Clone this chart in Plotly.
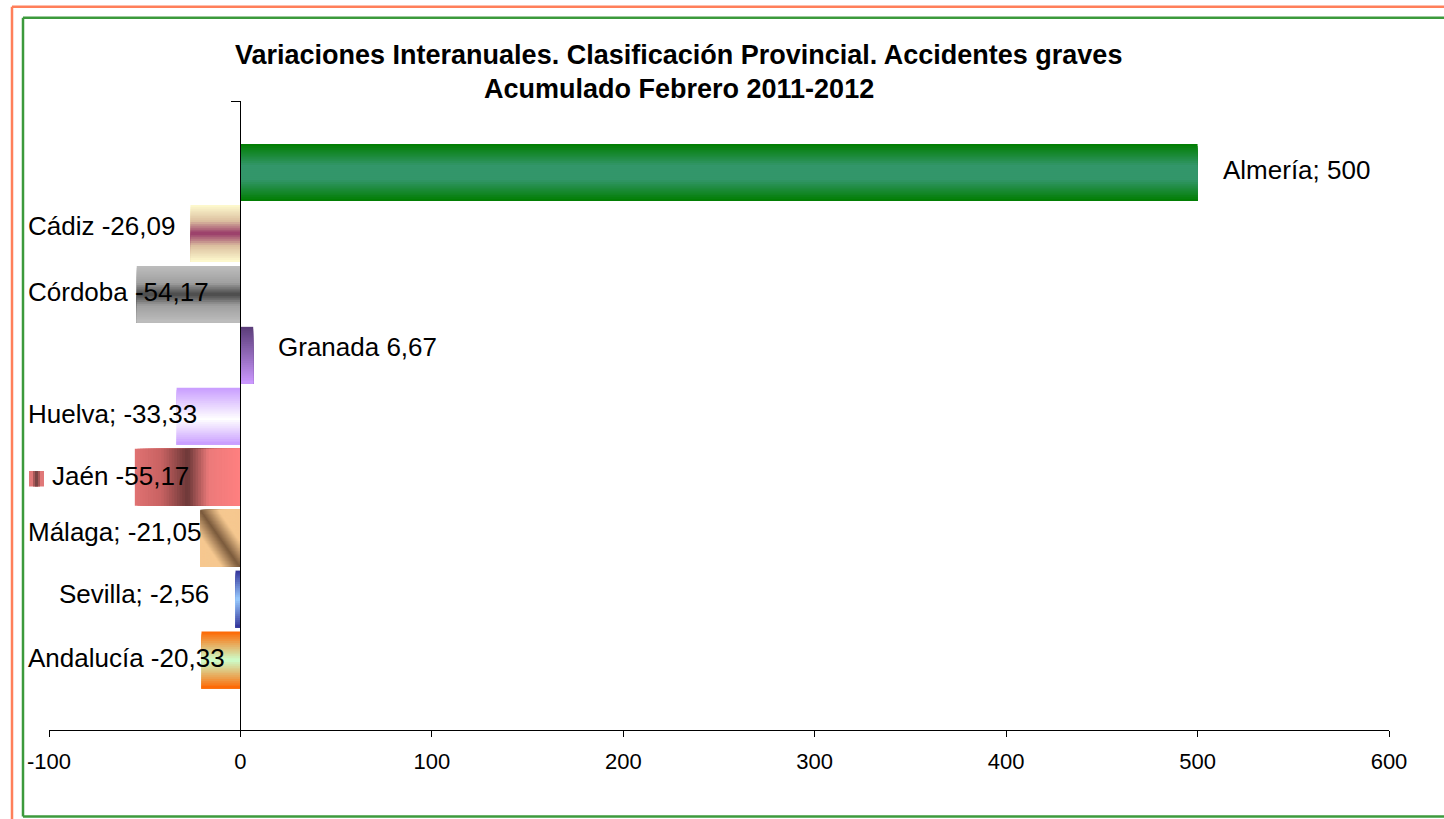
import plotly.graph_objects as go

# ---------------- data ----------------
provincias = ["Almería", "Cádiz", "Córdoba", "Granada", "Huelva", "Jaén", "Málaga", "Sevilla", "Andalucía"]
variacion = [500, -26.09, -54.17, 6.67, -33.33, -55.17, -21.05, -2.56, -20.33]
separador = ["; ", " ", " ", " ", "; ", " ", "; ", "; ", " "]
x_ticks = [-100, 0, 100, 200, 300, 400, 500, 600]
titulo_1 = "Variaciones Interanuales. Clasificación Provincial. Accidentes graves"
titulo_2 = "Acumulado Febrero 2011-2012"

# ---------------- layout geometry (pixels) ----------------
W_, H_ = 1444, 819
L, R, T, B = 49, 55, 101, 89
PW, PH = W_ - L - R, H_ - T - B
FONT = "Liberation Sans, Arial, sans-serif"


def pxx(px):
    return (px - L) / PW


def pxy(py):
    return (H_ - B - py) / PH


# label placement: left edge x (px), vertical centre y (px)
label_pos = [(1221, 170.5), (26, 226), (26, 291.5), (276, 347), (26, 414),
             (50, 475.5), (26, 532), (57, 594), (26, 658)]

BAR_W = 0.935
Y_RANGE = [9.148, -1.173]


def hexrgb(h):
    h = h.lstrip("#")
    return tuple(int(h[i:i + 2], 16) for i in (0, 2, 4))


def ramp(stops, p):
    p = min(max(p, 0.0), 1.0)
    for (p0, c0), (p1, c1) in zip(stops, stops[1:]):
        if p <= p1:
            f = 0 if p1 == p0 else (p - p0) / (p1 - p0)
            a, b = hexrgb(c0), hexrgb(c1)
            return "rgb(%d,%d,%d)" % tuple(round(a[k] + (b[k] - a[k]) * f) for k in range(3))
    a = hexrgb(stops[-1][1])
    return "rgb(%d,%d,%d)" % a


# gradient styles: (n_u along value, n_t across thickness, colour function(u, t))
styles = [
    (1, 30, lambda u, t: ramp([(0, "#007d00"), (0.38, "#33966a"), (0.62, "#33966a"), (1, "#007d00")], t)),
    (1, 30, lambda u, t: ramp([(0, "#fffcd0"), (0.28, "#dcc0a0"), (0.5, "#983868"), (0.72, "#dcc0a0"), (1, "#fffcd0")], t)),
    (1, 30, lambda u, t: ramp([(0, "#bebebe"), (0.3, "#a0a0a0"), (0.5, "#484848"), (0.7, "#a0a0a0"), (1, "#bebebe")], t)),
    (1, 30, lambda u, t: ramp([(0, "#5a3c78"), (1, "#cc99ff")], t)),
    (1, 30, lambda u, t: ramp([(0, "#c89cff"), (0.55, "#ffffff"), (1, "#c89cff")], t)),
    (40, 1, lambda u, t: ramp([(0, "#e07272"), (0.25, "#c86262"), (0.5, "#6c3838"), (0.7, "#ec7a7a"), (1, "#ff8080")], u)),
    (40, 40, lambda u, t: ramp([(0, "#7a5a3c"), (0.5, "#f6c890"), (1, "#f6c890")], abs(u - t) * 1.1)),
    (1, 30, lambda u, t: ramp([(0, "#333399"), (0.5, "#99ccff"), (1, "#333399")], t)),
    (1, 30, lambda u, t: ramp([(0, "#ff6600"), (0.5, "#ccffcc"), (1, "#ff6600")], t)),
]

xs, bases, ys, offs, wids, cols = [], [], [], [], [], []
for k, v in enumerate(variacion):
    nu, nt, fn = styles[k]
    lo, hi = min(0, v), max(0, v)
    for i in range(nu):
        u0 = i / nu
        for j in range(nt):
            t0 = j / nt
            base = lo + u0 * (hi - lo)
            xs.append(hi - base)
            bases.append(base)
            ys.append(k)
            offs.append(-BAR_W / 2 + t0 * BAR_W)
            wids.append(BAR_W * (1 - t0))
            cols.append(fn((i + 0.5) / nu, (j + 0.5) / nt))

fig = go.Figure()
fig.add_trace(go.Bar(
    x=xs, base=bases, y=ys, offset=offs, width=wids, orientation="h",
    marker=dict(color=cols, line=dict(width=0)), hoverinfo="skip", showlegend=False,
))


def fmt(v):
    if float(v).is_integer():
        return str(int(v))
    return ("%.2f" % v).replace(".", ",")


annotations = []
for name, sep, v, (lx, ly) in zip(provincias, separador, variacion, label_pos):
    annotations.append(dict(
        text=f"{name}{sep}{fmt(v)}", x=pxx(lx), y=pxy(ly), xref="paper", yref="paper",
        xanchor="left", yanchor="middle", showarrow=False,
        font=dict(family=FONT, size=26, color="black"),
    ))
annotations.append(dict(text=f"<b>{titulo_1}</b>", x=pxx(678.5), y=pxy(55), xref="paper", yref="paper",
                        xanchor="center", yanchor="middle", showarrow=False,
                        font=dict(family=FONT, size=27, color="black")))
annotations.append(dict(text=f"<b>{titulo_2}</b>", x=pxx(678.5), y=pxy(89), xref="paper", yref="paper",
                        xanchor="center", yanchor="middle", showarrow=False,
                        font=dict(family=FONT, size=27, color="black")))


def frame_lines(x_left, y_top, y_bottom, color):
    segs = [((x_left, y_top), (1480, y_top)), ((x_left, y_top), (x_left, y_bottom))]
    if y_bottom < 819:
        segs.append(((x_left, y_bottom), (1480, y_bottom)))
    return [dict(type="line", xref="paper", yref="paper",
                 x0=pxx(a[0]), y0=pxy(a[1]), x1=pxx(b[0]), y1=pxy(b[1]),
                 line=dict(color=color, width=2.5), layer="below") for a, b in segs]


shapes = frame_lines(12, 6.7, 830, "#ff7f5a") + frame_lines(23, 17.7, 816.5, "#3c9a3c") + [
    # legend key next to Jaén
    dict(type="rect", xref="paper", yref="paper", x0=pxx(29), x1=pxx(44), y0=pxy(471), y1=pxy(486.5),
         line=dict(width=0), fillcolor="#e07878", layer="above"),
    dict(type="rect", xref="paper", yref="paper", x0=pxx(33), x1=pxx(40), y0=pxy(471), y1=pxy(486.5),
         line=dict(width=0), fillcolor="#a85858", layer="above"),
    dict(type="rect", xref="paper", yref="paper", x0=pxx(35), x1=pxx(38), y0=pxy(471), y1=pxy(486.5),
         line=dict(width=0), fillcolor="#7a4444", layer="above"),
]

fig.update_layout(
    width=W_, height=H_,
    margin=dict(l=L, r=R, t=T, b=B, pad=0),
    paper_bgcolor="white", plot_bgcolor="white",
    barmode="overlay",
    showlegend=False,
    annotations=annotations,
    shapes=shapes,
    xaxis=dict(
        range=[-100, 600], tickvals=x_ticks, ticktext=[str(t) for t in x_ticks],
        showgrid=False, zeroline=False, showline=True, linecolor="black", linewidth=1,
        ticks="outside", ticklen=6, tickcolor="black", tickwidth=1,
        ticklabelstandoff=6,
        tickfont=dict(family=FONT, size=22, color="black"),
    ),
    yaxis=dict(
        range=Y_RANGE, anchor="free", position=(0 - (-100)) / 700,
        showgrid=False, zeroline=False, showline=True, linecolor="black", linewidth=1,
        ticks="outside", ticklen=9, tickcolor="black", tickwidth=1,
        tickvals=[Y_RANGE[1]], showticklabels=False,
    ),
)

fig.write_html("out.html", config={"displayModeBar": False},
               post_script="document.body.style.margin='0';document.body.style.overflow='hidden';"
                           "document.documentElement.style.overflow='hidden';")
